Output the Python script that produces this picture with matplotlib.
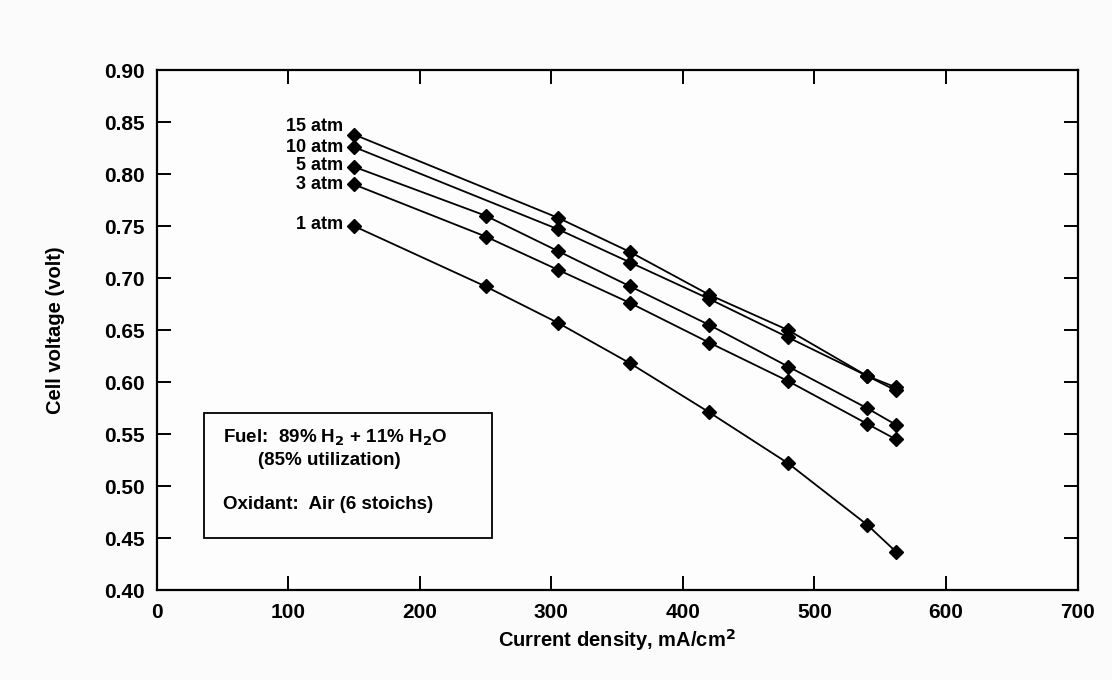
import matplotlib.pyplot as plt
from matplotlib.patches import Rectangle

plt.rcParams['font.family'] = ['Liberation Sans', 'DejaVu Sans']
plt.rcParams['font.weight'] = 'bold'
plt.rcParams['mathtext.default'] = 'bf'

# current density, mA/cm2
x_all = [150, 250, 305, 360, 420, 480, 540, 562]
x_hi = [150, 305, 360, 420, 480, 540, 562]

v_1atm = [0.750, 0.692, 0.657, 0.618, 0.571, 0.522, 0.463, 0.437]
v_3atm = [0.790, 0.740, 0.708, 0.676, 0.638, 0.601, 0.560, 0.545]
v_5atm = [0.807, 0.760, 0.726, 0.692, 0.655, 0.615, 0.575, 0.559]
v_10atm = [0.826, 0.747, 0.715, 0.680, 0.643, 0.606, 0.592]
v_15atm = [0.838, 0.758, 0.725, 0.684, 0.650, 0.606, 0.595]

series = [
    ("1 atm", x_all, v_1atm),
    ("3 atm", x_all, v_3atm),
    ("5 atm", x_all, v_5atm),
    ("10 atm", x_hi, v_10atm),
    ("15 atm", x_hi, v_15atm),
]
# small vertical nudge of the pressure labels (like the original)
label_dy = {"1 atm": 0.002, "3 atm": 0.0, "5 atm": 0.001, "10 atm": 0.0, "15 atm": 0.008}

fig = plt.figure(figsize=(11.12, 6.8), dpi=100, facecolor="#fbfbfb")
ax = fig.add_axes([0.141, 0.132, 0.828, 0.765], facecolor="#fdfdfd")

for name, xs, ys in series:
    ax.plot(xs, ys, color="black", lw=1.3, marker="D", ms=7, mfc="black", mec="black")
    ax.text(xs[0] - 8, ys[0] + label_dy[name], name, ha="right", va="center",
            fontsize=13, fontweight="bold")

ax.set_xlim(0, 700)
ax.set_ylim(0.40, 0.90)
ax.set_xticks(range(0, 701, 100))
ax.set_yticks([0.40 + 0.05 * i for i in range(11)])
ax.set_yticklabels([f"{0.40 + 0.05 * i:.2f}" for i in range(11)])
ax.tick_params(direction="in", length=10, width=1.4, top=True, right=True, labelsize=15, pad=9)
for lbl in ax.get_xticklabels() + ax.get_yticklabels():
    lbl.set_fontweight("bold")
for s in ax.spines.values():
    s.set_linewidth(1.6)

ax.set_xlabel("Current density, mA/cm$^2$", fontsize=14.5, fontweight="bold", labelpad=4)
ax.set_ylabel("Cell voltage (volt)", fontsize=14.5, fontweight="bold", labelpad=28)

# note box
ax.add_patch(Rectangle((36, 0.450), 219, 0.120, fill=False, ec="black", lw=1.3))
ax.text(50, 0.546, "Fuel:  89% H$_2$ + 11% H$_2$O", ha="left", va="center",
        fontsize=13.5, fontweight="bold")
ax.text(77, 0.525, "(85% utilization)", ha="left", va="center",
        fontsize=13.5, fontweight="bold")
ax.text(50, 0.482, "Oxidant:  Air (6 stoichs)", ha="left", va="center",
        fontsize=13.5, fontweight="bold")

fig.savefig("out.png", dpi=100, facecolor=fig.get_facecolor())
